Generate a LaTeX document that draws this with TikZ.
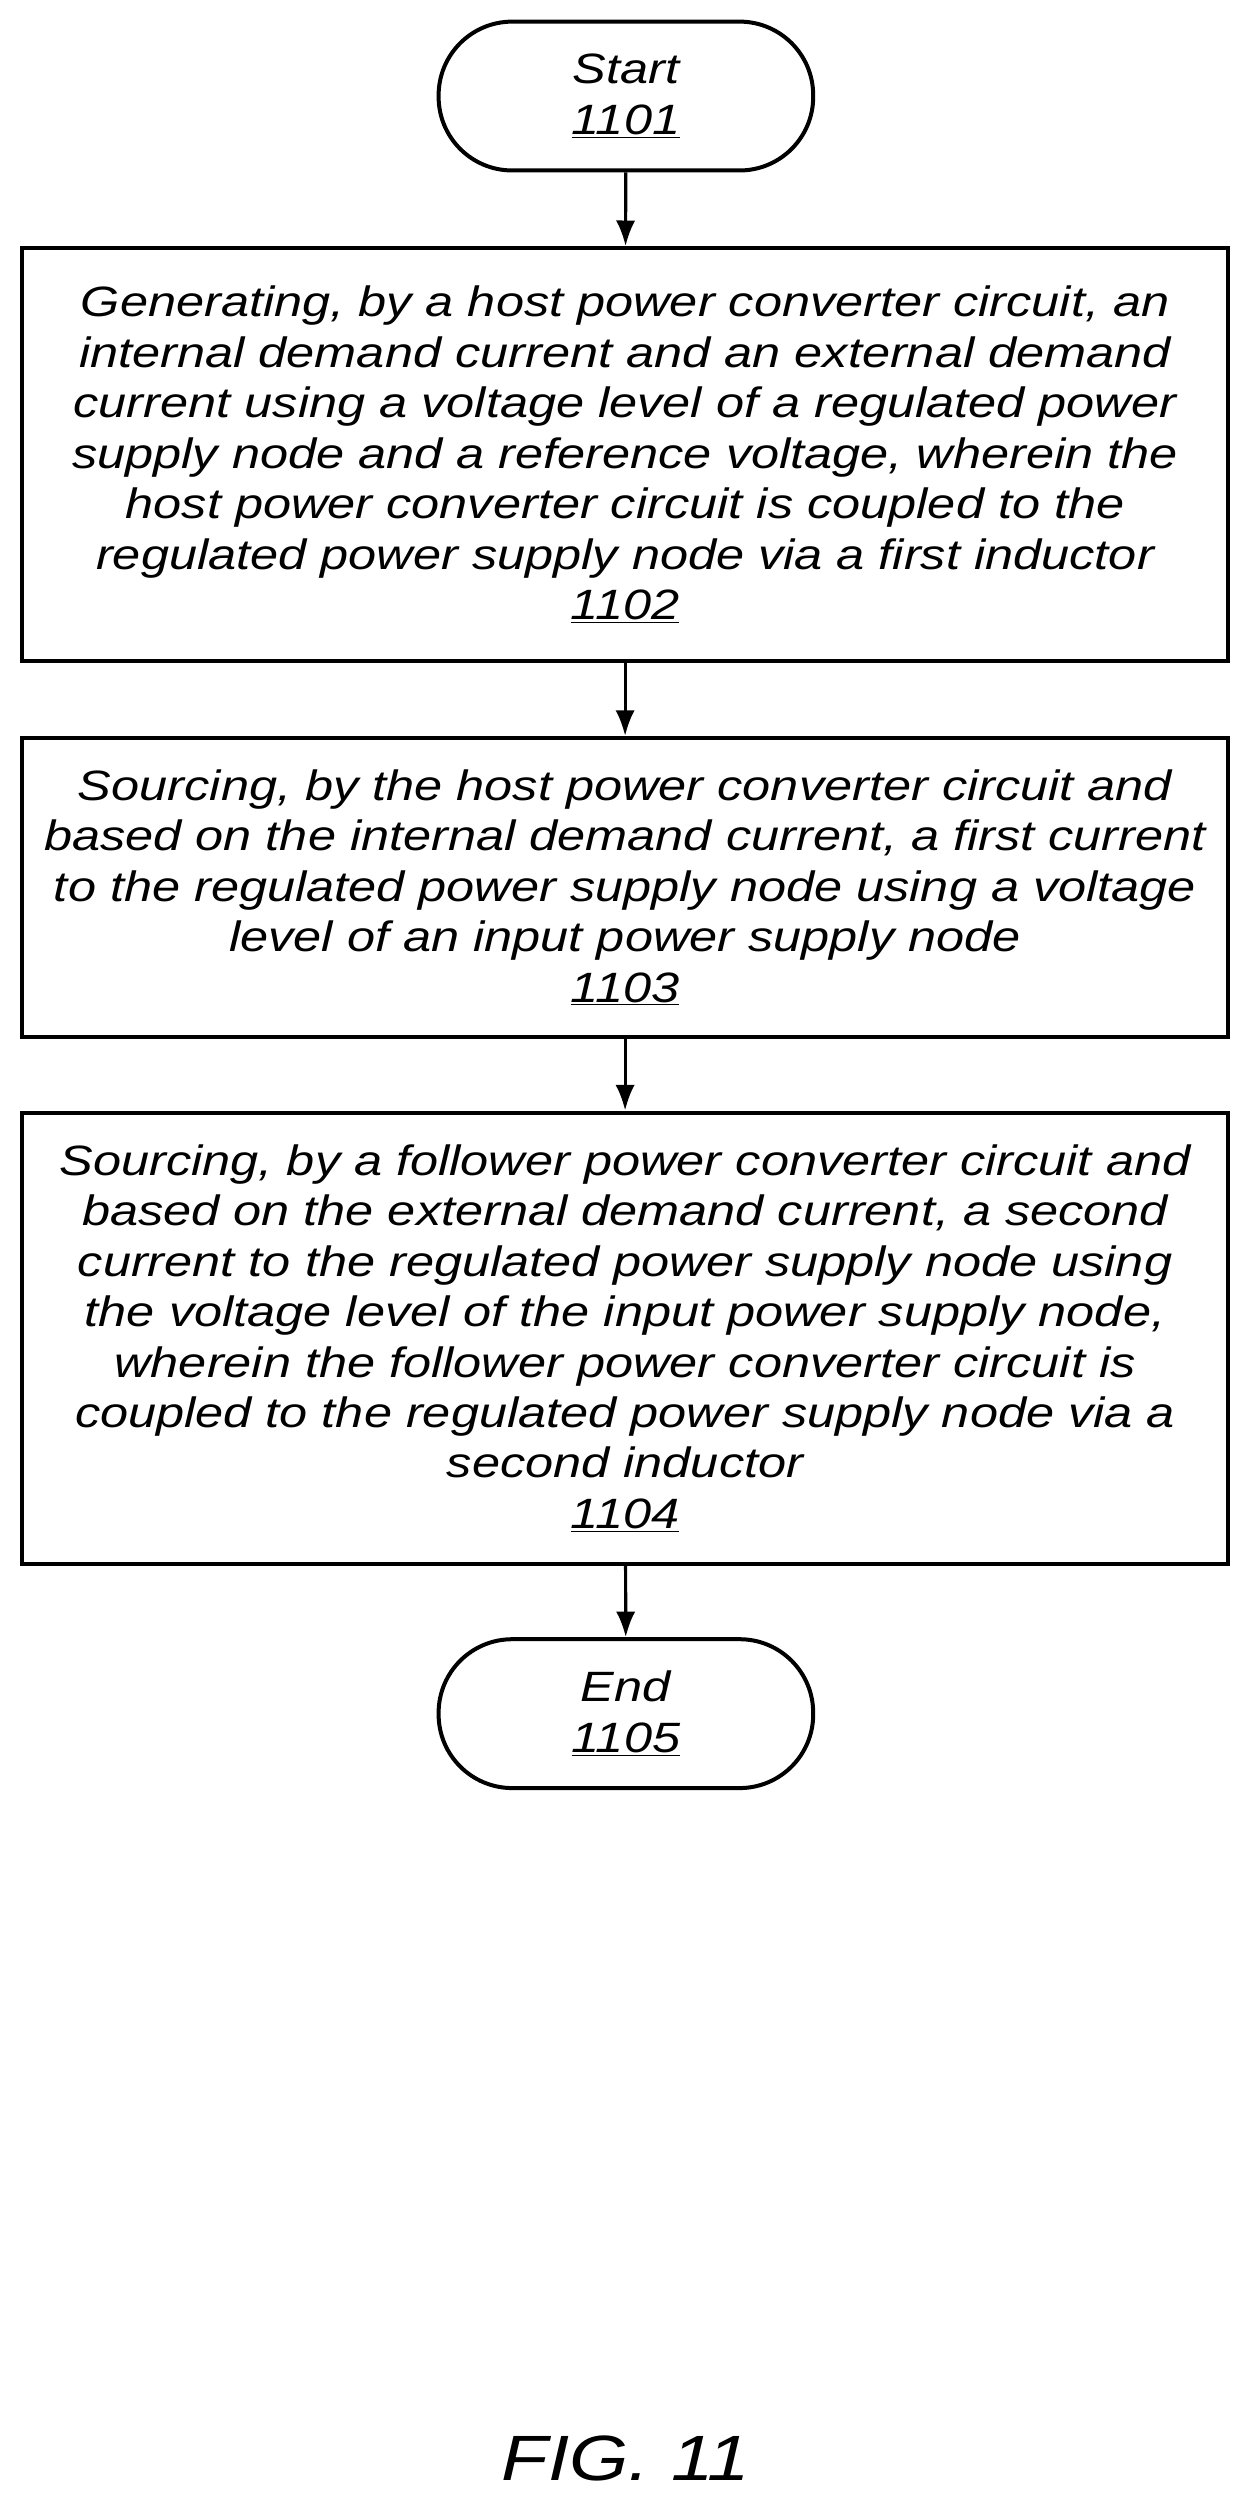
\documentclass[tikz,border=0pt]{standalone}
\usepackage{fontspec}
\setmainfont{Liberation Sans}[FakeStretch=1.19]
\usetikzlibrary{arrows.meta}
\begin{document}
\begin{tikzpicture}[x=1pt,y=1pt,
  every node/.style={font=\fontsize{26.5}{31.5}\selectfont\itshape, align=center, inner sep=0pt},
  box/.style={draw, line width=2.5pt, minimum width=753pt},
  term/.style={draw, line width=2.5pt, rounded corners=46pt, minimum width=234pt, minimum height=93pt},
  arr/.style={-{Latex[length=16pt,width=12pt]}, line width=2pt}]
\useasboundingbox (0,0) rectangle (779,-1563);
\node[term] (s) at (391,-60) {Start\\\underline{1101}};
\node[box, minimum height=258pt] (b1) at (390.5,-284) {Generating, by a host power converter circuit, an\\internal demand current and an external demand\\current using a voltage level of a regulated power\\supply node and a reference voltage, wherein the\\host power converter circuit is coupled to the\\regulated power supply node via a first inductor\\\underline{1102}};
\node[box, minimum height=187pt] (b2) at (390.5,-554.5) {Sourcing, by the host power converter circuit and\\based on the internal demand current, a first current\\to the regulated power supply node using a voltage\\level of an input power supply node\\\underline{1103}};
\node[box, minimum height=282pt] (b3) at (390.5,-836) {Sourcing, by a follower power converter circuit and\\based on the external demand current, a second\\current to the regulated power supply node using\\the voltage level of the input power supply node,\\wherein the follower power converter circuit is\\coupled to the regulated power supply node via a\\second inductor\\\underline{1104}};
\node[term] (e) at (391,-1070.5) {End\\\underline{1105}};
\draw[arr] (s) -- (b1);
\draw[arr] (b1) -- (b2);
\draw[arr] (b2) -- (b3);
\draw[arr] (b3) -- (e);
\node[font=\fontsize{40}{44}\selectfont\itshape] (fig) at (391,-1536) {FIG. 11};
\end{tikzpicture}
\end{document}
